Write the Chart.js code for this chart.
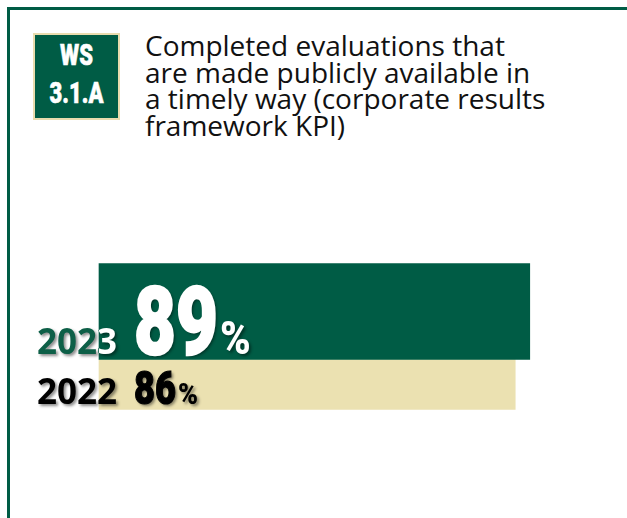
<!DOCTYPE html>
<html>
<head>
<meta charset="utf-8">
<script src="https://cdn.jsdelivr.net/npm/chart.js@4"></script>
<style>
  html, body { margin: 0; padding: 0; background: #fff; overflow: hidden; }
  #wrap { position: relative; width: 627px; height: 518px; overflow: hidden; }
  #frame {
    position: absolute; left: 7px; top: 7px; width: 700px; height: 600px;
    border-top: 3px solid #005c45; border-left: 3px solid #005c45;
  }
  #badge {
    position: absolute; left: 33px; top: 33px; width: 87px; height: 87px;
    box-sizing: border-box; background: #005c45; border: 2px solid #e9dcae;
    color: #fff; font: 900 29px Roboto, sans-serif; text-align: center;
    -webkit-text-stroke: 0.6px #fff;
  }
  #badge div { position: absolute; left: 0; right: 0; line-height: 29px; transform: scaleX(0.76); }
  #title {
    position: absolute; left: 145px; top: 32px;
    font: 28px "Open Sans", sans-serif; line-height: 26.5px; color: #111;
    white-space: nowrap;
  }
  canvas { position: absolute; left: 0; top: 0; }
</style>
</head>
<body>
<div id="wrap">
  <div id="frame"></div>
  <div id="badge"><div style="top:6px">WS</div><div style="top:44px">3.1.A</div></div>
  <div id="title">Completed evaluations that<br>are made publicly available in<br>a timely way (corporate results<br>framework KPI)</div>
  <canvas id="kpi" width="627" height="518"></canvas>
</div>
<script>
// ─── Data ───
const years = ['2023', '2022'];
const shares = [89, 86];          // % of completed evaluations published on time
const barColors = ['#005c45', '#ebe1b1'];

// ─── Styles per row ───
const thickness = [96, 50];
const yearColors = ['#0d5f47', '#000'];
const yearOnBar = ['#fff', '#000'];   // part of the year label that sits on the bar
const numColors = ['#fff', '#000'];
const numSizes = [94, 47];
const pctSizes = [46, 30];

const datasets = years.map((y, i) => ({
    label: y,
    data: shares.map((v, j) => (j === i ? v : null)),
    backgroundColor: barColors[i],
    barThickness: thickness[i],
    grouped: false,
    borderWidth: 0,
    clip: false
}));

function shadowOn(ctx) {
    ctx.shadowColor = 'rgba(0,0,0,0.45)';
    ctx.shadowBlur = 3;
    ctx.shadowOffsetX = 2;
    ctx.shadowOffsetY = 2;
}

const labelPlugin = {
    id: 'rowLabels',
    afterDatasetsDraw(chart) {
        const ctx = chart.ctx;
        const W = chart.width, H = chart.height;
        years.forEach((y, i) => {
            const bar = chart.getDatasetMeta(i).data[i];
            const base = bar.base;
            const bottom = bar.y + bar.height / 2;
            const baseline = bottom - 6;

            // year label: off-bar part and on-bar part
            [[0, base, yearColors[i]], [base, W, yearOnBar[i]]].forEach(([a, b, col]) => {
                ctx.save();
                ctx.beginPath();
                ctx.rect(a, 0, b - a, H);
                ctx.clip();
                shadowOn(ctx);
                ctx.font = 'bold 35px "Open Sans", sans-serif';
                ctx.fillStyle = col;
                ctx.textAlign = 'right';
                ctx.textBaseline = 'alphabetic';
                ctx.fillText(y, base + 18, baseline);
                ctx.restore();
            });

            // value, condensed and heavy
            ctx.save();
            shadowOn(ctx);
            ctx.textAlign = 'left';
            ctx.textBaseline = 'alphabetic';
            ctx.fillStyle = numColors[i];
            ctx.strokeStyle = numColors[i];
            ctx.font = '900 ' + numSizes[i] + 'px Roboto, sans-serif';
            const num = String(shares[i]);
            const sx = 0.77;
            const w = ctx.measureText(num).width * sx;
            const x0 = base + 35;
            ctx.save();
            ctx.translate(x0, baseline);
            ctx.scale(sx, 1);
            ctx.lineWidth = numSizes[i] / 40;
            ctx.fillText(num, 0, 0);
            ctx.shadowColor = 'transparent';
            ctx.strokeText(num, 0, 0);
            ctx.restore();
            ctx.font = '900 ' + pctSizes[i] + 'px Roboto, sans-serif';
            ctx.save();
            ctx.translate(x0 + w + 2, baseline);
            ctx.scale(0.9, 1);
            ctx.fillText('%', 0, 0);
            ctx.restore();
            ctx.restore();
        });
    }
};

new Chart(document.getElementById('kpi'), {
    type: 'bar',
    data: { labels: years, datasets },
    options: {
        indexAxis: 'y',
        responsive: false,
        animation: false,
        layout: { padding: { left: 99, right: 44, top: 275, bottom: 97 } },
        scales: {
            x: { display: false, min: 0, max: 100 },
            y: { display: false }
        },
        plugins: { legend: { display: false }, tooltip: { enabled: false } }
    },
    plugins: [labelPlugin]
});
</script>
</body>
</html>
